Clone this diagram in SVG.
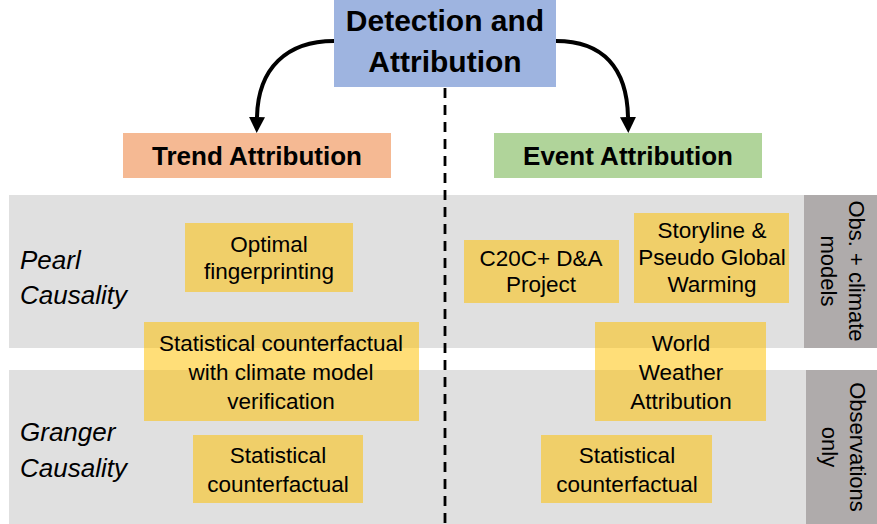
<svg xmlns="http://www.w3.org/2000/svg" width="877" height="524" viewBox="0 0 877 524">
<style>
text{font-family:"Liberation Sans",Arial,sans-serif;fill:#000}
.h1{font-size:30px;font-weight:bold;text-anchor:middle}
.h2{font-size:26px;font-weight:bold;text-anchor:middle}
.it{font-size:26px;font-style:italic}
.t{font-size:22.5px;text-anchor:middle}
.v{font-size:22px;text-anchor:middle}
.band{fill:#E0E0E0}
.lab{fill:#AFABAB}
.y{fill:#FFC000;fill-opacity:0.53}
.arr{fill:none;stroke:#000;stroke-width:4}
</style>
<defs>
<marker id="ah" markerUnits="userSpaceOnUse" markerWidth="18" markerHeight="18" refX="0" refY="8" orient="auto">
<path d="M0,0 L16,8 L0,16 z" fill="#000"/>
</marker>
</defs>
<g id="bands">
<rect class="band" x="9" y="195" width="800" height="153"/>
<rect class="band" x="9" y="370" width="800" height="154"/>
</g>
<g id="label-obs-models">
<rect class="lab" x="804" y="195" width="73" height="153"/>
<text class="v" transform="translate(849,271) rotate(90)">Obs. + climate</text>
<text class="v" transform="translate(821,271) rotate(90)">models</text>
</g>
<g id="label-obs-only">
<rect class="lab" x="806" y="370" width="71" height="154"/>
<text class="v" transform="translate(850,447) rotate(90)">Observations</text>
<text class="v" transform="translate(822,447) rotate(90)">only</text>
</g>
<g id="pearl">
<text class="it" x="20" y="269">Pearl</text>
<text class="it" x="20" y="304">Causality</text>
</g>
<g id="granger">
<text class="it" x="20" y="441">Granger</text>
<text class="it" x="20" y="477">Causality</text>
</g>
<g id="connectors">
<line x1="445" y1="88" x2="445" y2="524" stroke="#000" stroke-width="2.8" stroke-dasharray="10,7"/>
<path class="arr" d="M334,41 C287,41 258,68 257,117" marker-end="url(#ah)"/>
<path class="arr" d="M556,41 C603,41 627,68 628,117" marker-end="url(#ah)"/>
</g>
<g id="detection">
<rect x="334" y="0" width="222" height="87" fill="#9EB4E0"/>
<text class="h1" x="445" y="31">Detection and</text>
<text class="h1" x="445" y="72">Attribution</text>
</g>
<g id="trend">
<rect x="123" y="133" width="268" height="45" fill="#F5B993"/>
<text class="h2" x="257" y="165">Trend Attribution</text>
</g>
<g id="event">
<rect x="494" y="133" width="268" height="45" fill="#B0D49A"/>
<text class="h2" x="628" y="165">Event Attribution</text>
</g>
<g id="optimal">
<rect class="y" x="185" y="223" width="168" height="69"/>
<text class="t" x="269" y="252">Optimal</text>
<text class="t" x="269" y="279">fingerprinting</text>
</g>
<g id="stat-cf-climate">
<rect class="y" x="144" y="322" width="275" height="99"/>
<text class="t" x="281" y="351">Statistical counterfactual</text>
<text class="t" x="281" y="380">with climate model</text>
<text class="t" x="281" y="409">verification</text>
</g>
<g id="stat-cf-left">
<rect class="y" x="193" y="435" width="170" height="68"/>
<text class="t" x="278" y="463">Statistical</text>
<text class="t" x="278" y="492">counterfactual</text>
</g>
<g id="c20c">
<rect class="y" x="464" y="240" width="155" height="63"/>
<text class="t" x="541" y="266">C20C+ D&amp;A</text>
<text class="t" x="541" y="292">Project</text>
</g>
<g id="storyline">
<rect class="y" x="634" y="213" width="155" height="90"/>
<text class="t" x="712" y="238">Storyline &amp;</text>
<text class="t" x="712" y="265">Pseudo Global</text>
<text class="t" x="712" y="292">Warming</text>
</g>
<g id="wwa">
<rect class="y" x="595" y="322" width="171" height="99"/>
<text class="t" x="681" y="351">World</text>
<text class="t" x="681" y="380">Weather</text>
<text class="t" x="681" y="409">Attribution</text>
</g>
<g id="stat-cf-right">
<rect class="y" x="541" y="435" width="171" height="68"/>
<text class="t" x="627" y="463">Statistical</text>
<text class="t" x="627" y="492">counterfactual</text>
</g>
</svg>
